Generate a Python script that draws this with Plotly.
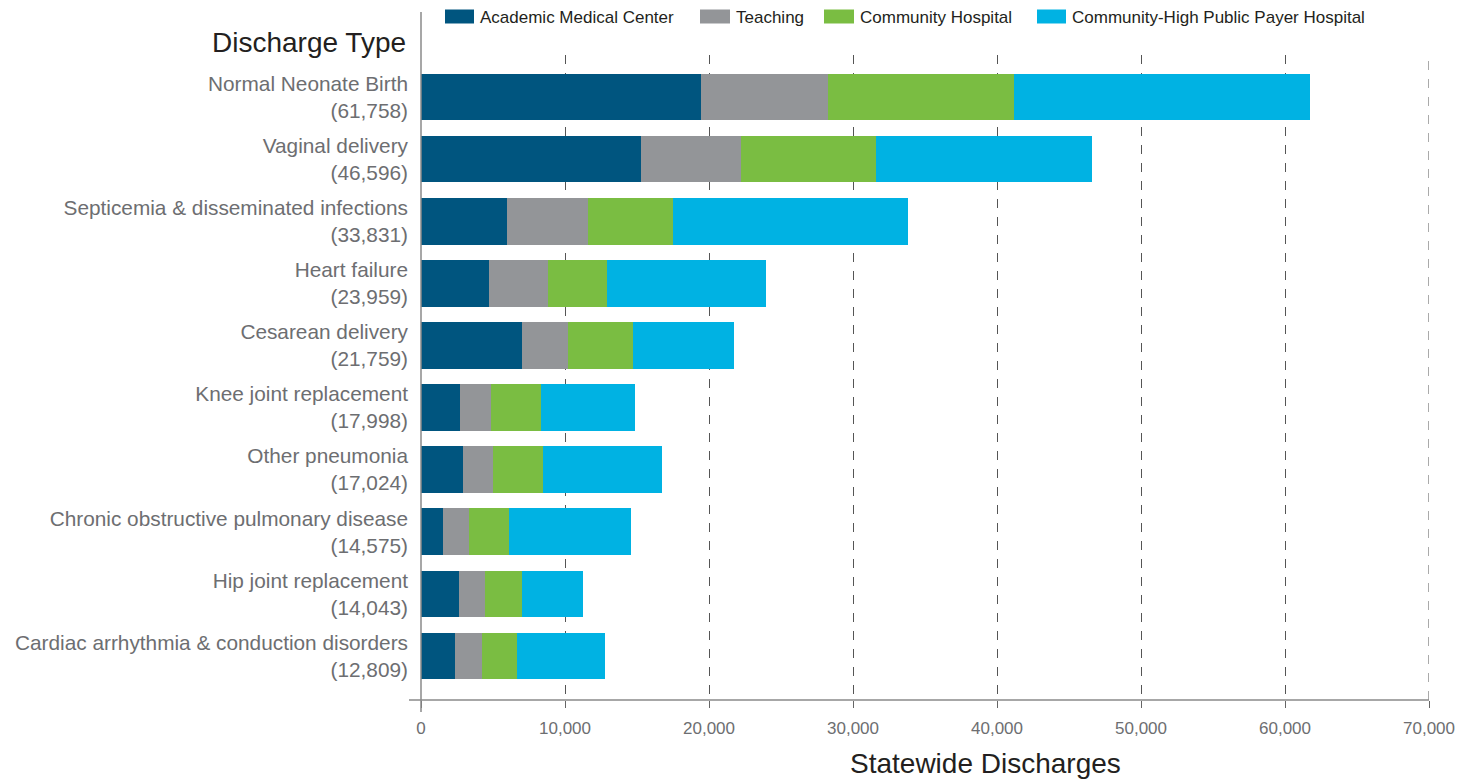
import plotly.graph_objects as go

categories = [
    "Normal Neonate Birth",
    "Vaginal delivery",
    "Septicemia & disseminated infections",
    "Heart failure",
    "Cesarean delivery",
    "Knee joint replacement",
    "Other pneumonia",
    "Chronic obstructive pulmonary disease",
    "Hip joint replacement",
    "Cardiac arrhythmia & conduction disorders",
]
totals = ["61,758", "46,596", "33,831", "23,959", "21,759",
          "17,998", "17,024", "14,575", "14,043", "12,809"]

academic = [19450, 15280, 5970, 4720, 7040, 2730, 2940, 1530, 2620, 2380]
teaching = [8800, 6940, 5600, 4080, 3150, 2150, 2080, 1780, 1800, 1830]
community = [12930, 9360, 5930, 4100, 4510, 3470, 3450, 2800, 2570, 2450]
community_hpp = [20578, 15016, 16331, 11059, 7059, 6510, 8240, 8465, 4260, 6149]

series_names = ["Academic Medical Center", "Teaching", "Community Hospital",
                "Community-High Public Payer Hospital"]
series_values = [academic, teaching, community, community_hpp]
series_colors = ["#00557f", "#939598", "#7abd42", "#00b2e3"]

x_ticks = [0, 10000, 20000, 30000, 40000, 50000, 60000, 70000]
x_ticklabels = ["0", "10,000", "20,000", "30,000", "40,000", "50,000", "60,000", "70,000"]

labels = [f"{c}<br>({t})" for c, t in zip(categories, totals)]

W, H = 1476, 779
L, R, T, B = 421, 47, 55, 79
pw, ph = W - L - R, H - T - B


def px_x(px):
    return (px - L) / pw


def px_y(py):
    return (H - B - py) / ph


fig = go.Figure()
for name, vals, col in zip(series_names, series_values, series_colors):
    fig.add_trace(go.Bar(
        y=labels, x=vals, name=name, orientation="h",
        marker=dict(color=col, line=dict(width=0)),
    ))

fig.update_layout(
    width=W, height=H,
    margin=dict(l=L, r=R, t=T, b=B, pad=0),
    barmode="stack", bargap=0.25,
    plot_bgcolor="white", paper_bgcolor="white",
    font=dict(family="Liberation Sans, Arial, sans-serif", color="#6d6e71"),
    showlegend=False,
    xaxis=dict(
        range=[0, x_ticks[-1]], tickvals=x_ticks, ticktext=x_ticklabels,
        showgrid=True, gridcolor="#555555", griddash="dash", gridwidth=1,
        zeroline=False, showline=False,
        ticks="outside", ticklen=7, tickcolor="#666666", tickwidth=1,
        tickfont=dict(size=17, color="#6d6e71"),
        ticklabelstandoff=6,
    ),
    yaxis=dict(
        categoryorder="array", categoryarray=labels,
        range=[9 + 44 / 62.1, -(97 - T) / 62.1],
        showgrid=False, zeroline=False, showline=False, ticks="",
        tickfont=dict(size=20.8, color="#6d6e71"),
        ticklabelstandoff=12,
    ),
)

# gridline at the right end of the range (plotly drops grid lines at the edge)
fig.add_shape(type="line", xref="x", yref="paper",
              x0=x_ticks[-1], x1=x_ticks[-1], y0=0, y1=1,
              line=dict(color="#555555", width=1, dash="dash"), layer="below")

# axis lines
fig.add_shape(type="line", xref="paper", yref="paper",
              x0=px_x(409), x1=1, y0=0, y1=0,
              line=dict(color="#8a8a8a", width=1.5), layer="above")
fig.add_shape(type="line", xref="paper", yref="paper",
              x0=0, x1=0, y0=px_y(712), y1=px_y(12),
              line=dict(color="#8a8a8a", width=1.5), layer="above")

# legend (drawn to match the reference's wide swatches)
legend_swatch_px = [(445, 474), (700, 730), (824, 854), (1037, 1066)]
for name, col, (sx0, sx1) in zip(series_names, series_colors, legend_swatch_px):
    fig.add_shape(type="rect", xref="paper", yref="paper",
                  x0=px_x(sx0), x1=px_x(sx1), y0=px_y(23.5), y1=px_y(9.5),
                  fillcolor=col, line=dict(width=0))
    fig.add_annotation(text=name, xref="paper", yref="paper",
                       x=px_x(sx1 + 4), y=px_y(17), xanchor="left", yanchor="middle",
                       showarrow=False, font=dict(size=17, color="#231f20"))

fig.add_annotation(text="Discharge Type", xref="paper", yref="paper",
                   x=px_x(408), y=px_y(42), xanchor="right", yanchor="middle",
                   showarrow=False, font=dict(size=28, color="#231f20"))
fig.add_annotation(text="Statewide Discharges", xref="paper", yref="paper",
                   x=px_x(985), y=px_y(763), xanchor="center", yanchor="middle",
                   showarrow=False, font=dict(size=28, color="#231f20"))

fig.write_html("out.html")
